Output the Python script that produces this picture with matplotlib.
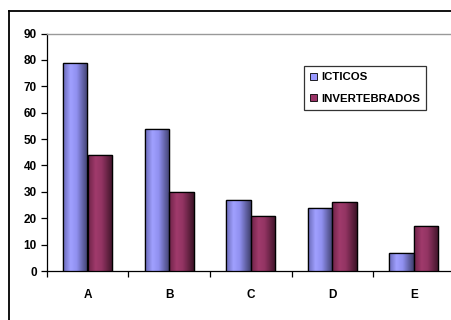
import matplotlib
matplotlib.use("Agg")
import matplotlib.pyplot as plt
import numpy as np
from matplotlib.colors import LinearSegmentedColormap
from matplotlib.lines import Line2D
from matplotlib.patches import Patch

categories = ["A", "B", "C", "D", "E"]
icticos = [79, 54, 27, 24, 7]
invertebrados = [44, 30, 21, 26, 17]
series_names = ["ICTICOS", "INVERTEBRADOS"]
yticks = [0, 10, 20, 30, 40, 50, 60, 70, 80, 90]

plt.rcParams['font.family'] = ['Liberation Sans', 'DejaVu Sans']
plt.rcParams['font.weight'] = 'bold'

W, H = 452, 320
fig = plt.figure(figsize=(W / 100, H / 100), dpi=100)
fig.patch.set_facecolor("white")

# outer chart frame (cropped at right/bottom)
fig.add_artist(Line2D([9 / W, 9 / W], [0, 1 - 11 / H], transform=fig.transFigure, color="black", lw=1.3))
fig.add_artist(Line2D([9 / W, 1], [1 - 11 / H, 1 - 11 / H], transform=fig.transFigure, color="black", lw=1.3))

left = 46.7 / W
ax = fig.add_axes([left, 49 / H, 408 / W, 237.5 / H])

x = np.arange(len(categories)) + 0.5
bw = 0.3
b1 = ax.bar(x - bw / 2, icticos, bw, color="#9999ff", edgecolor="black", linewidth=0.9, zorder=3)
b2 = ax.bar(x + bw / 2, invertebrados, bw, color="#993366", edgecolor="black", linewidth=0.9, zorder=3)

cm1 = LinearSegmentedColormap.from_list("c1", [(0, "#6a6ab8"), (0.3, "#a0a0ff"), (0.55, "#9090f0"), (1, "#40406e")])
cm2 = LinearSegmentedColormap.from_list("c2", [(0, "#6e2448"), (0.3, "#a03a6c"), (0.55, "#933463"), (1, "#3e1428")])
grad = np.linspace(0, 1, 64).reshape(1, -1)
for bars, cm in ((b1, cm1), (b2, cm2)):
    for p in bars:
        x0, y0 = p.get_x(), p.get_y()
        w, h = p.get_width(), p.get_height()
        im = ax.imshow(grad, cmap=cm, aspect="auto", extent=(x0, x0 + w, y0, y0 + h), zorder=3.5, interpolation="bilinear")
        im.set_clip_path(p)
        ax.add_patch(plt.Rectangle((x0, y0), w, h, fill=False, edgecolor="black", linewidth=0.9, zorder=4))
ax.set_xlim(0, len(categories))
ax.set_ylim(0, 90)

ax.spines["right"].set_visible(False)
ax.spines["top"].set_color("#999999")
ax.spines["top"].set_linewidth(1.0)
ax.spines["left"].set_color("black")
ax.spines["bottom"].set_color("black")
ax.spines["left"].set_linewidth(0.9)
ax.spines["bottom"].set_linewidth(0.9)

ax.set_yticks(yticks)
ax.set_yticklabels([str(v) for v in yticks], fontsize=8.5, fontweight="bold")
ax.tick_params(axis="y", length=4, width=0.9, pad=3, direction="out")

ax.set_xticks(np.arange(len(categories)))
ax.set_xticklabels([])
ax.set_xticks(x, minor=True)
ax.set_xticklabels(categories, minor=True, fontsize=8.5, fontweight="bold")
ax.tick_params(axis="x", which="major", length=4, width=0.9, direction="out")
ax.tick_params(axis="x", which="minor", length=0, pad=13)

handles = [Patch(facecolor="#9999ff", edgecolor="black", linewidth=0.6),
           Patch(facecolor="#993366", edgecolor="black", linewidth=0.6)]
leg = fig.legend(handles, series_names, loc="upper left",
                 bbox_to_anchor=(304 / W, 1 - 66 / H), bbox_transform=fig.transFigure,
                 prop={"size": 8.2, "weight": "bold"}, frameon=True, fancybox=False,
                 handlelength=0.55, handleheight=0.55, handletextpad=0.4, borderpad=0.55,
                 labelspacing=1.0, borderaxespad=0)
leg.get_frame().set_edgecolor("black")
leg.get_frame().set_linewidth(0.9)

fig.savefig("out.png", dpi=100)
